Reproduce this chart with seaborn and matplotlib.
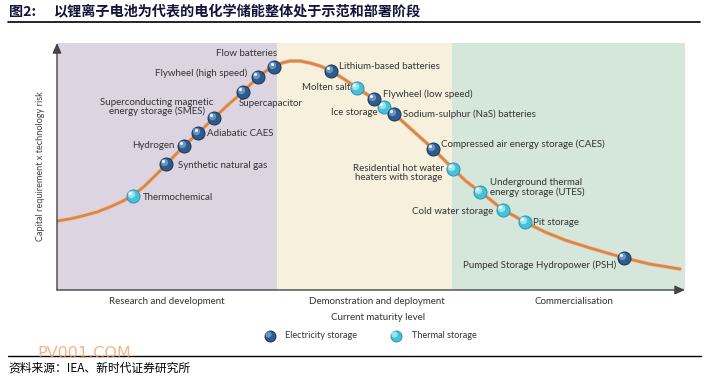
import numpy as np
import pandas as pd
import matplotlib
matplotlib.use("Agg")
import matplotlib.pyplot as plt
import matplotlib.patheffects as pe
from matplotlib.lines import Line2D
from matplotlib.transforms import ScaledTranslation, blended_transform_factory
import seaborn as sns

# ---------------- data ----------------
tech_names = [
    "Thermochemical", "Synthetic natural gas", "Hydrogen", "Adiabatic CAES",
    "Superconducting magnetic\nenergy storage (SMES)", "Supercapacitor",
    "Flywheel (high speed)", "Flow batteries", "Lithium-based batteries",
    "Molten salt", "Flywheel (low speed)", "Ice storage",
    "Sodium-sulphur (NaS) batteries", "Compressed air energy storage (CAES)",
    "Residential hot water\nheaters with storage",
    "Underground thermal\nenergy storage (UTES)", "Cold water storage",
    "Pit storage", "Pumped Storage Hydropower (PSH)",
]
tech_maturity = [12.1, 17.4, 20.2, 22.5, 25.0, 29.6, 32.0, 34.6, 43.6,
                 47.8, 50.5, 52.1, 53.7, 59.9, 63.1, 67.4, 71.0, 74.5, 90.3]
tech_risk = [38.1, 51.0, 58.3, 63.6, 69.6, 80.2, 86.2, 90.3, 88.7,
             81.8, 77.3, 74.1, 71.3, 57.1, 49.0, 39.7, 32.4, 27.5, 13.0]
tech_type = ["Thermal storage", "Electricity storage", "Electricity storage",
             "Electricity storage", "Electricity storage", "Electricity storage",
             "Electricity storage", "Electricity storage", "Electricity storage",
             "Thermal storage", "Electricity storage", "Thermal storage",
             "Electricity storage", "Electricity storage", "Thermal storage",
             "Thermal storage", "Thermal storage", "Thermal storage",
             "Electricity storage"]

curve_maturity = [0.0, 2.1, 4.1, 6.4, 8.4, 10.4, 12.1, 13.9, 15.6, 17.4, 18.8,
                  20.2, 22.5, 25.0, 27.2, 29.6, 32.0, 33.3, 34.6, 35.8, 37.1,
                  38.7, 40.3, 41.9, 43.6, 45.7, 47.8, 50.5, 52.1, 53.7, 56.7,
                  59.9, 63.1, 65.1, 67.4, 69.3, 71.0, 72.8, 74.5, 77.7, 80.9,
                  84.9, 90.3, 94.4, 99.2]
curve_risk = [27.9, 28.8, 30.0, 31.6, 33.6, 35.9, 38.3, 42.0, 46.2, 50.8, 54.6,
              58.3, 63.6, 69.6, 74.9, 80.2, 86.2, 88.7, 90.3, 91.9, 92.7,
              92.7, 91.9, 90.7, 88.7, 85.4, 81.8, 77.3, 74.1, 71.3, 64.4,
              57.1, 49.0, 44.1, 39.7, 36.0, 32.4, 30.0, 27.5, 23.5, 20.2,
              17.0, 13.0, 10.5, 8.5]

stage_names = ["Research and development", "Demonstration and deployment",
               "Commercialisation"]
stage_bounds = [0.0, 35.0, 62.9, 100.0]

# ---------------- layout / style ----------------
label_layout = {  # offset in points from marker, horizontal alignment
    "Thermochemical": (7.2, -1.4, "left"),
    "Synthetic natural gas": (8.6, -0.7, "left"),
    "Hydrogen": (-6.5, 0, "right"),
    "Adiabatic CAES": (6.5, -0.7, "left"),
    "Superconducting magnetic\nenergy storage (SMES)": (-41, 8, "center"),
    "Supercapacitor": (-3, -8.6, "left"),
    "Flywheel (high speed)": (-8, 3, "right"),
    "Flow batteries": (2, 10, "right"),
    "Lithium-based batteries": (5.8, 2.9, "left"),
    "Molten salt": (-5, 0, "right"),
    "Flywheel (low speed)": (6.5, 3.6, "left"),
    "Ice storage": (-5, -4.3, "right"),
    "Sodium-sulphur (NaS) batteries": (6.5, 0, "left"),
    "Compressed air energy storage (CAES)": (5.8, 3.6, "left"),
    "Residential hot water\nheaters with storage": (-39.6, -2.9, "center"),
    "Underground thermal\nenergy storage (UTES)": (7.2, 2.9, "left"),
    "Cold water storage": (-7.2, -1.4, "right"),
    "Pit storage": (5.8, 0, "left"),
    "Pumped Storage Hydropower (PSH)": (-5.8, -5, "right"),
}
stage_colors = ["#ddd4e2", "#f6f0dc", "#d5e7da"]
stage_label_x = [17.5, 51.0, 82.3]
marker_style = {
    "Electricity storage": dict(base="#2d5b8e", edge="#1a3355", hi="#7fa6cf"),
    "Thermal storage": dict(base="#45c1db", edge="#2a93ad", hi="#b9eef7"),
}
text_color = "#333333"
fs = 7.0

sns.set_theme(style="white")
plt.rcParams["font.family"] = ["Lato", "DejaVu Sans"]
cjk = ["Noto Sans CJK SC", "DejaVu Sans"]

W, H = 707, 381
fig = plt.figure(figsize=(W / 100, H / 100), dpi=100)
fig.patch.set_facecolor("white")
ax = fig.add_axes([57 / W, 91 / H, 628 / W, 247 / H])
ax.set_facecolor("white")

df = pd.DataFrame(dict(name=tech_names, maturity=tech_maturity,
                       risk=tech_risk, type=tech_type))
curve = pd.DataFrame(dict(maturity=curve_maturity, risk=curve_risk))

# stage backgrounds
for lo, hi, c in zip(stage_bounds[:-1], stage_bounds[1:], stage_colors):
    ax.axvspan(lo, hi, color=c, lw=0, zorder=0)

# curve
sns.lineplot(data=curve, x="maturity", y="risk", ax=ax, sort=False,
             estimator=None, color="#d9864d", lw=2.0, zorder=2,
             path_effects=[pe.Stroke(linewidth=3.0, foreground="#f1c7a2"),
                           pe.Normal()])

# markers (thermal first so electricity overlaps)
hl = ax.transData + ScaledTranslation(-1.3 / 72, 1.3 / 72, fig.dpi_scale_trans)
hl2 = ax.transData + ScaledTranslation(-2.0 / 72, 2.0 / 72, fig.dpi_scale_trans)
for z, t in enumerate(["Thermal storage", "Electricity storage"]):
    sub = df[df["type"] == t]
    st = marker_style[t]
    sns.scatterplot(data=sub, x="maturity", y="risk", ax=ax, color=st["base"],
                    edgecolor=st["edge"], linewidth=0.7, s=88,
                    zorder=3 + z, legend=False)
    ax.scatter(sub["maturity"], sub["risk"], s=28, color=st["hi"], alpha=0.75,
               lw=0, transform=hl, zorder=3 + z)
    ax.scatter(sub["maturity"], sub["risk"], s=5, color="white", alpha=0.9,
               lw=0, transform=hl2, zorder=3 + z)

# labels
for _, r in df.iterrows():
    dx, dy, ha = label_layout[r["name"]]
    ax.annotate(r["name"], (r["maturity"], r["risk"]), xytext=(dx, dy),
                textcoords="offset points", ha=ha, va="center",
                multialignment=ha,
                fontsize=fs, color=text_color, linespacing=1.05, zorder=6)

ax.set_xlim(0, 100)
ax.set_ylim(0, 100)
ax.set_xticks([])
ax.set_yticks([])
ax.set_xlabel("")
ax.set_ylabel("")
for s in ax.spines.values():
    s.set_visible(False)

# axis arrows
arrow_kw = dict(arrowstyle="-|>,head_length=0.5,head_width=0.22",
                color="#444444", lw=1.0, shrinkA=0, shrinkB=0)
ax.annotate("", xy=(0, 1.0), xytext=(0, 0), xycoords="axes fraction",
            arrowprops=arrow_kw, annotation_clip=False)
ax.annotate("", xy=(1.0, 0), xytext=(0, 0), xycoords="axes fraction",
            arrowprops=arrow_kw, annotation_clip=False)

# stage labels
tr = blended_transform_factory(ax.transData, ax.transAxes)
for x, name in zip(stage_label_x, stage_names):
    ax.text(x, -0.045, name, transform=tr, ha="center", va="center",
            fontsize=fs, color=text_color)

fig.text(41 / W, 1 - 166 / H, "Capital requirement x technology risk",
         rotation=90, ha="center", va="center", fontsize=6.6, color="#444444")
fig.text(378 / W, 1 - 318 / H, "Current maturity level", ha="center",
         va="center", fontsize=fs, color=text_color)

# legend
for (t, mx, tx) in [("Electricity storage", 270, 285),
                    ("Thermal storage", 396, 412)]:
    st = marker_style[t]
    ly = 1 - 336 / H
    ax.scatter([mx / W], [ly], s=62, color=st["base"], edgecolor=st["edge"],
               lw=0.7, transform=fig.transFigure, clip_on=False, zorder=5)
    ax.scatter([mx / W], [ly], s=20, color=st["hi"], alpha=0.75, lw=0,
               transform=fig.transFigure + ScaledTranslation(-1.2 / 72, 1.2 / 72, fig.dpi_scale_trans),
               clip_on=False, zorder=5)
    fig.text(tx / W, ly, t, ha="left", va="center", fontsize=6.6,
             color=text_color)

# title & footer
fig.text(9 / W, 1 - 12 / H, "图2:", fontsize=10.2, fontweight="bold",
         family=cjk, color="#14143a", ha="left", va="center")
fig.text(53 / W, 1 - 12 / H, "以锂离子电池为代表的电化学储能整体处于示范和部署阶段",
         fontsize=10.2, fontweight="bold", family=cjk, color="#14143a",
         ha="left", va="center")
fig.add_artist(Line2D([8 / W, 700 / W], [1 - 22 / H] * 2, color="black", lw=1.2))
fig.add_artist(Line2D([8 / W, 701 / W], [1 - 356 / H] * 2, color="black", lw=1.0))
fig.text(37 / W, 1 - 353 / H, "PV001.COM", fontsize=11.5, color="#f2a26a",
         alpha=0.8, family=["DejaVu Sans"], ha="left", va="center", zorder=10)
fig.text(8 / W, 1 - 368 / H, "资料来源：IEA、新时代证券研究所", fontsize=8.5,
         family=cjk, color="black", ha="left", va="center")

fig.savefig("out.png", dpi=100)
